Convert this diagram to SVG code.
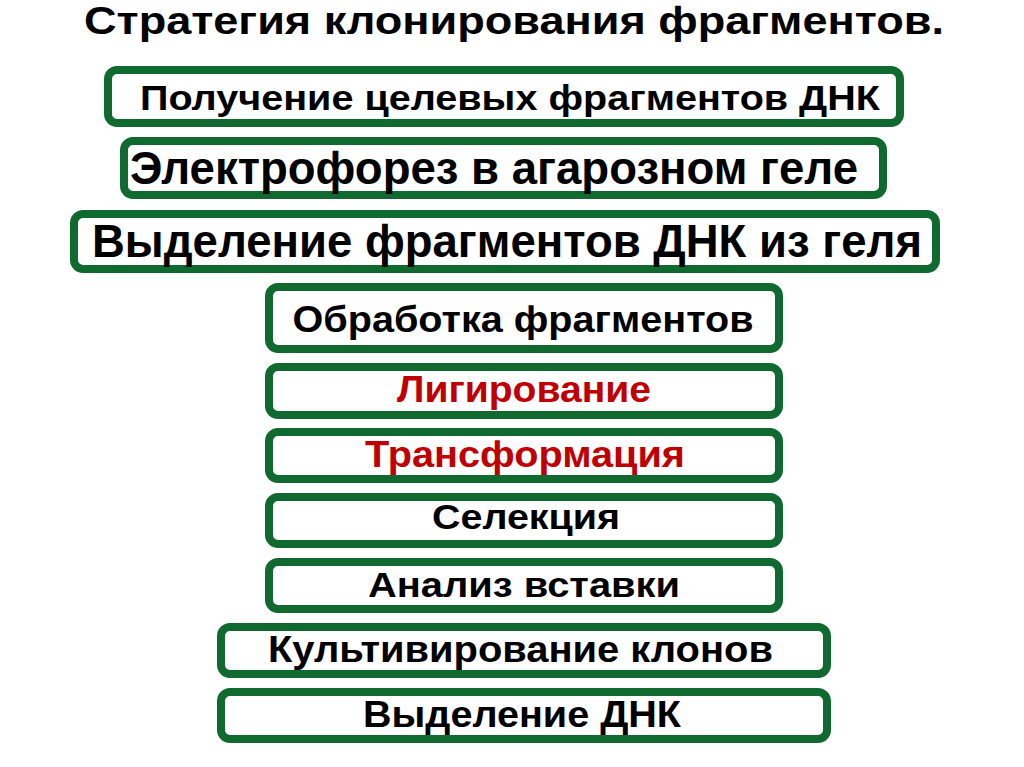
<svg xmlns="http://www.w3.org/2000/svg" width="1024" height="767" viewBox="0 0 1024 767">
<style>
.box{fill:#ffffff;stroke:#10692f;stroke-width:8}
.t{font-family:"Liberation Sans",Arial,sans-serif;font-weight:bold;fill:#000000;text-anchor:middle}
.r{fill:#c00000}
</style>
<rect x="0" y="0" width="1024" height="767" fill="#ffffff"/>
<text class="t" x="514" y="34" font-size="38" textLength="860" lengthAdjust="spacingAndGlyphs">Стратегия клонирования фрагментов.</text>
<g id="connectors"></g>
<g id="n1"><rect class="box" x="108" y="70" width="792" height="53" rx="9"/><text class="t" x="510" y="110" font-size="35" textLength="740" lengthAdjust="spacingAndGlyphs">Получение целевых фрагментов ДНК</text></g>
<g id="n2"><rect class="box" x="124" y="141" width="759" height="54" rx="9"/><text class="t" x="494" y="184" font-size="46" textLength="728" lengthAdjust="spacingAndGlyphs">Электрофорез в агарозном геле</text></g>
<g id="n3"><rect class="box" x="74" y="214" width="862" height="55" rx="9"/><text class="t" x="507" y="257" font-size="46" textLength="830" lengthAdjust="spacingAndGlyphs">Выделение фрагментов ДНК из геля</text></g>
<g id="n4"><rect class="box" x="269" y="287" width="510" height="62" rx="9"/><text class="t" x="523" y="332" font-size="37" textLength="461" lengthAdjust="spacingAndGlyphs">Обработка фрагментов</text></g>
<g id="n5"><rect class="box" x="269" y="367" width="510" height="48" rx="9"/><text class="t r" x="524" y="402" font-size="37" textLength="254" lengthAdjust="spacingAndGlyphs">Лигирование</text></g>
<g id="n6"><rect class="box" x="269" y="432" width="510" height="47" rx="9"/><text class="t r" x="525" y="467" font-size="37" textLength="320" lengthAdjust="spacingAndGlyphs">Трансформация</text></g>
<g id="n7"><rect class="box" x="269" y="497" width="510" height="47" rx="9"/><text class="t" x="526" y="529" font-size="35" textLength="188" lengthAdjust="spacingAndGlyphs">Селекция</text></g>
<g id="n8"><rect class="box" x="269" y="562" width="510" height="47" rx="9"/><text class="t" x="524" y="597" font-size="35" textLength="312" lengthAdjust="spacingAndGlyphs">Анализ вставки</text></g>
<g id="n9"><rect class="box" x="221" y="627" width="606" height="47" rx="9"/><text class="t" x="520.5" y="662" font-size="36" textLength="505" lengthAdjust="spacingAndGlyphs">Культивирование клонов</text></g>
<g id="n10"><rect class="box" x="221" y="692" width="606" height="47" rx="9"/><text class="t" x="522" y="727" font-size="36" textLength="318" lengthAdjust="spacingAndGlyphs">Выделение ДНК</text></g>
</svg>
